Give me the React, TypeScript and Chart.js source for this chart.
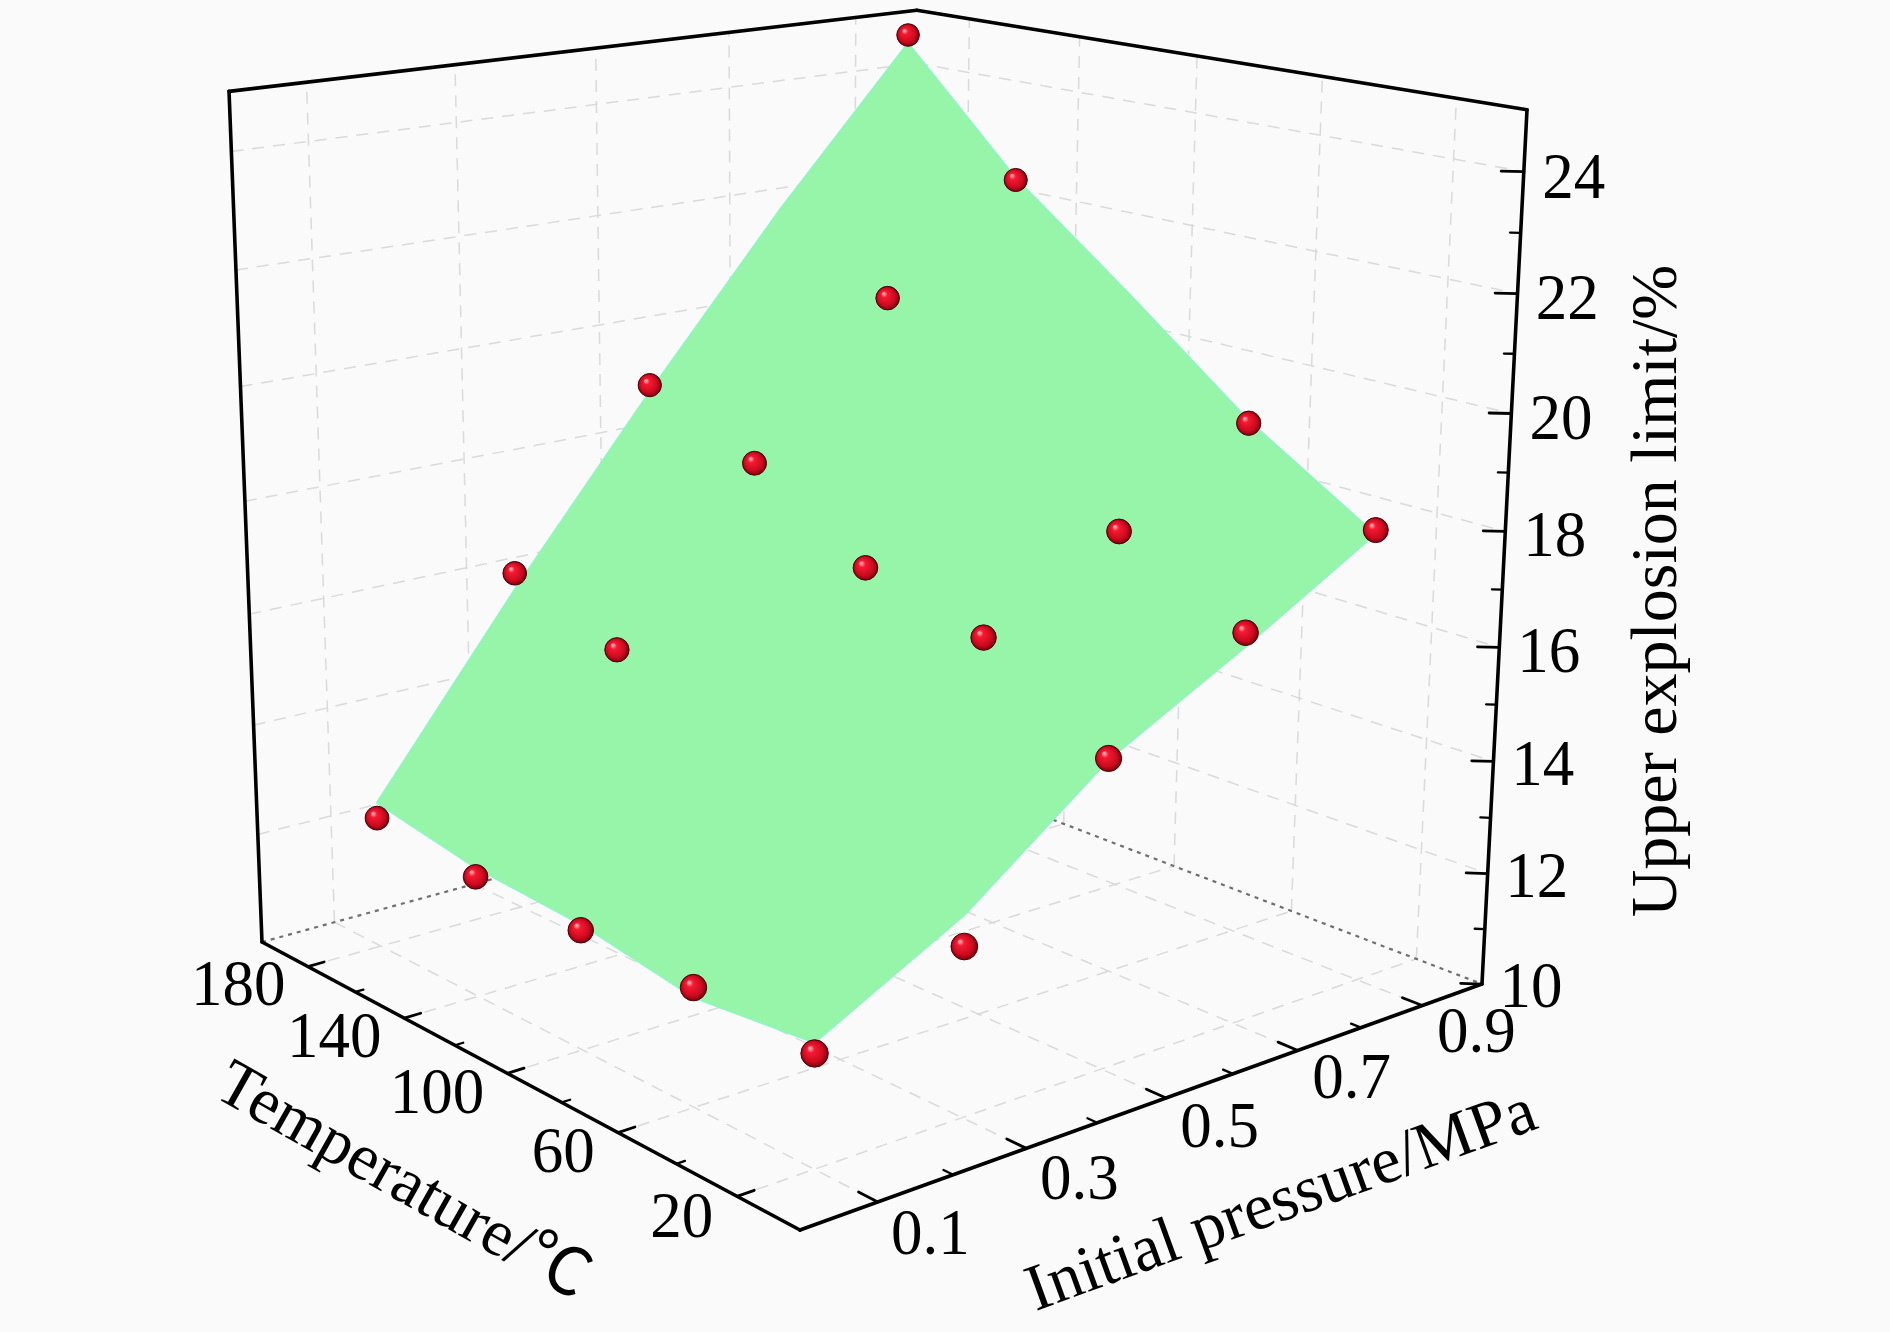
import React, { useEffect, useRef } from "react";
import { Chart, registerables } from "chart.js";

Chart.register(...registerables);

// ---------------- data ----------------
const temperatures = [180, 140, 100, 60, 20]; // °C (rows)
const pressures = [0.1, 0.3, 0.5, 0.7, 0.9]; // MPa (columns)

// measured upper explosion limit (%) for each temperature, by pressure
const uelT180 = [12.37, 16.23, 19.16, 21.6, 24.84];
const uelT140 = [12.15, 15.54, 18.32, 20.82, 22.57];
const uelT100 = [12.09, 14.2, 17.1, 18.5, 20.5];
const uelT60 = [12.03, 13.4, 16.58, 17.84, 19.22];
const uelT20 = [11.9, 12.87, 15.29, 16.78, 17.97];

// fitted surface (%) for each temperature, by pressure
const fitT180 = [12.65, 15.95, 19.05, 21.99, 24.7];
const fitT140 = [12.31, 15.0, 18.0, 20.5, 22.61];
const fitT100 = [12.19, 14.7, 16.9, 18.95, 20.98];
const fitT60 = [11.86, 13.9, 16.2, 17.6, 19.27];
const fitT20 = [12.07, 13.39, 15.26, 16.53, 17.9];

// axes
const tempRange = [0, 200];
const pressureRange = [0, 1];
const uelRange = [10, 25];
const tempTicks = [20, 60, 100, 140, 180];
const tempMinorTicks = [40, 80, 120, 160];
const pressureTicks = [0.1, 0.3, 0.5, 0.7, 0.9];
const pressureMinorTicks = [0.2, 0.4, 0.6, 0.8];
const uelTicks = [10, 12, 14, 16, 18, 20, 22, 24];
const uelMinorTicks = [11, 13, 15, 17, 19, 21, 23];

const titleTemperature = "Temperature/℃";
const titlePressure = "Initial pressure/MPa";
const titleUel = "Upper explosion limit/%";

// ---------------- layout / style ----------------
const W = 1890;
const H = 1332;
// perspective camera: (u, v, s, 1) -> units of the hidden x / y scales
const CAMERA = {
  xRow: [408.6, 769.4, -46.5, 262],
  yRow: [89.1, -74.95, -856, 942],
  wRow: [-0.16173, 0.1334, -0.0591, 1],
};
const FONT = "'Liberation Serif', 'Times New Roman', 'Noto Sans CJK SC', serif";
const TICK_FONT = 63;
const TITLE_FONT = 66;
const TEXT_STRETCH_Y = 1.04;
const TITLE_T = { x: 402, y: 1183, angle: 29.5 };
const TITLE_P = { x: 1282, y: 1203, angle: -20 };
const TITLE_Z = { x: 1659, y: 591, angle: -90 };
const SURFACE_COLOR = "rgb(150,245,168)";
const SURFACE_EDGE = "rgb(140,246,196)";
const GRID_COLOR = "rgba(214,214,214,0.9)";
const SPHERE_COLOR = "#e0102a";
const SPHERE_R = 11.8;
const SPHERE_Z_MARGIN = 0.3;

function project(T: number, P: number, Z: number) {
  const u = (tempRange[1] - T) / (tempRange[1] - tempRange[0]);
  const v = (P - pressureRange[0]) / (pressureRange[1] - pressureRange[0]);
  const s = (Z - uelRange[0]) / (uelRange[1] - uelRange[0]);
  const d = (r: number[]) => r[0] * u + r[1] * v + r[2] * s + r[3];
  const w = d(CAMERA.wRow);
  return { x: d(CAMERA.xRow) / w, y: d(CAMERA.yRow) / w, w };
}

type P3 = [number, number, number];

function segment(a: P3, b: P3, color: string, width: number, dash: number[], order: number) {
  const pa = project(a[0], a[1], a[2]);
  const pb = project(b[0], b[1], b[2]);
  return {
    type: "scatter" as const,
    data: [
      { x: pa.x, y: pa.y },
      { x: pb.x, y: pb.y },
    ],
    showLine: true,
    borderColor: color,
    borderWidth: width,
    borderDash: dash,
    borderCapStyle: dash.length ? "butt" : "round",
    pointRadius: 0,
    pointHoverRadius: 0,
    fill: false,
    clip: false,
    order,
  };
}

function sphereFill(ctx: any) {
  try {
    const raw = ctx && ctx.raw;
    const chart = ctx && ctx.chart;
    const xs = chart && chart.scales && chart.scales.x;
    const ys = chart && chart.scales && chart.scales.y;
    if (!raw || !xs || !ys) return SPHERE_COLOR;
    const cx = xs.getPixelForValue(raw.x);
    const cy = ys.getPixelForValue(raw.y);
    const r = raw.r;
    if (![cx, cy, r].every((q) => Number.isFinite(q)) || r <= 0) return SPHERE_COLOR;
    const g = chart.ctx.createRadialGradient(cx - r * 0.35, cy - r * 0.4, r * 0.05, cx, cy, r * 1.05);
    g.addColorStop(0, "#ffb0b0");
    g.addColorStop(0.22, "#f51a33");
    g.addColorStop(0.7, "#cc0a1e");
    g.addColorStop(1, "#70000e");
    return g;
  } catch (e) {
    return SPHERE_COLOR;
  }
}

function buildDatasets() {
  const measured = [uelT180, uelT140, uelT100, uelT60, uelT20];
  const surface = [fitT180, fitT140, fitT100, fitT60, fitT20];
  const ds: any[] = [];
  const [t0, t1] = tempRange;
  const [p0, p1] = pressureRange;
  const [z0, z1] = uelRange;

  // grid lines on the back walls and floor
  const grid = (a: P3, b: P3) => ds.push(segment(a, b, GRID_COLOR, 1.5, [12, 9], 9));
  pressureTicks.forEach((p) => grid([t1, p, z0], [t1, p, z1]));
  uelTicks.filter((z) => z > z0).forEach((z) => grid([t1, p0, z], [t1, p1, z]));
  tempTicks.forEach((t) => grid([t, p1, z0], [t, p1, z1]));
  uelTicks.filter((z) => z > z0).forEach((z) => grid([t1, p1, z], [t0, p1, z]));
  tempTicks.forEach((t) => grid([t, p0, z0], [t, p1, z0]));
  pressureTicks.forEach((p) => grid([t1, p, z0], [t0, p, z0]));

  // dotted hidden floor edges
  ds.push(segment([t1, p0, z0], [t1, p1, z0], "#707070", 2.2, [4, 5], 8));
  ds.push(segment([t1, p1, z0], [t0, p1, z0], "#707070", 2.2, [4, 5], 8));

  // scatter points, split by whether the surface hides them
  const behind: any[] = [];
  const front: any[] = [];
  temperatures.forEach((t, i) => {
    pressures.forEach((p, j) => {
      const z = measured[i][j];
      const pr = project(t, p, z);
      const pt = { x: pr.x, y: pr.y, r: SPHERE_R / pr.w, depth: pr.w };
      if (z >= surface[i][j] - SPHERE_Z_MARGIN) front.push(pt);
      else behind.push(pt);
    });
  });
  const byDepth = (a: any, b: any) => b.depth - a.depth;
  behind.sort(byDepth);
  front.sort(byDepth);
  const sphereSet = (data: any[], order: number) => ({
    type: "scatter" as const,
    data,
    pointRadius: data.map((q) => q.r),
    pointHoverRadius: data.map((q) => q.r),
    backgroundColor: sphereFill,
    borderColor: "#4d0008",
    borderWidth: 1,
    showLine: false,
    clip: false,
    order,
  });
  ds.push(sphereSet(behind, 7));

  // fitted surface outline (boundary of the grid)
  const n = temperatures.length;
  const m = pressures.length;
  const ring: { x: number; y: number }[] = [];
  for (let i = 0; i < n; i++) ring.push(project(temperatures[i], pressures[0], surface[i][0]));
  for (let j = 1; j < m; j++) ring.push(project(temperatures[n - 1], pressures[j], surface[n - 1][j]));
  for (let i = n - 2; i >= 0; i--) ring.push(project(temperatures[i], pressures[m - 1], surface[i][m - 1]));
  for (let j = m - 2; j >= 0; j--) ring.push(project(temperatures[0], pressures[j], surface[0][j]));
  ds.push({
    type: "scatter" as const,
    data: ring.map((q) => ({ x: q.x, y: q.y })),
    showLine: true,
    fill: "shape",
    backgroundColor: SURFACE_COLOR,
    borderColor: SURFACE_EDGE,
    borderWidth: 1.5,
    borderJoinStyle: "round",
    pointRadius: 0,
    pointHoverRadius: 0,
    clip: false,
    order: 6,
  });

  ds.push(sphereSet(front, 5));

  // solid box edges
  const edge = (a: P3, b: P3) => ds.push(segment(a, b, "#000", 3.6, [], 2));
  edge([t1, p0, z1], [t1, p1, z1]);
  edge([t1, p1, z1], [t0, p1, z1]);
  edge([t1, p0, z1], [t1, p0, z0]);
  edge([t0, p1, z1], [t0, p1, z0]);
  edge([t1, p0, z0], [t0, p0, z0]);
  edge([t0, p0, z0], [t0, p1, z0]);

  // ticks
  const tick = (a: P3, b: P3, w: number) => ds.push(segment(a, b, "#000", w, [], 1));
  tempTicks.forEach((t) => tick([t, p0, z0], [t, p0 + 0.022, z0], 2.8));
  tempMinorTicks.forEach((t) => tick([t, p0, z0], [t, p0 + 0.011, z0], 2.3));
  pressureTicks.forEach((p) => tick([t0, p, z0], [t0 + 6, p, z0], 2.8));
  pressureMinorTicks.forEach((p) => tick([t0, p, z0], [t0 + 3, p, z0], 2.3));
  uelTicks.forEach((z) => tick([t0, p1, z], [t0 + 3.4, p1 - 0.017, z], 2.8));
  uelMinorTicks.forEach((z) => tick([t0, p1, z], [t0 + 1.6, p1 - 0.008, z], 2.3));

  return ds;
}

const backgroundPlugin = {
  id: "paperBackground",
  beforeDraw(chart: any) {
    const { ctx } = chart;
    ctx.save();
    ctx.fillStyle = "#fafafa";
    ctx.fillRect(0, 0, chart.width, chart.height);
    ctx.restore();
  },
};

const axisTextPlugin = {
  id: "axisText",
  afterDatasetsDraw(chart: any) {
    const { ctx } = chart;
    const xs = chart.scales.x;
    const ys = chart.scales.y;
    const px = (q: { x: number; y: number }) => ({ x: xs.getPixelForValue(q.x), y: ys.getPixelForValue(q.y) });
    const [t0] = tempRange;
    const [p0, p1] = pressureRange;
    const [z0] = uelRange;
    const put = (text: string, x: number, y: number, angle = 0) => {
      ctx.save();
      ctx.translate(x, y);
      ctx.scale(1, TEXT_STRETCH_Y);
      ctx.rotate((angle * Math.PI) / 180);
      ctx.fillText(text, 0, 0);
      ctx.restore();
    };
    ctx.save();
    ctx.fillStyle = "#000";
    ctx.font = `${TICK_FONT}px ${FONT}`;

    // temperature tick labels
    ctx.textAlign = "right";
    ctx.textBaseline = "middle";
    tempTicks.forEach((t) => {
      const a = px(project(t, p0 - 0.03, z0));
      put(String(t), a.x, a.y + 15);
    });
    // pressure tick labels
    ctx.textAlign = "center";
    pressureTicks.forEach((p) => {
      const a = px(project(t0 - 16, p, z0));
      put(p.toFixed(1), a.x, a.y + 8);
    });
    // UEL tick labels
    ctx.textAlign = "left";
    uelTicks.forEach((z) => {
      const a = px(project(t0, p1 + 0.03, z));
      put(String(z), a.x, a.y + 12);
    });

    // axis titles
    ctx.font = `${TITLE_FONT}px ${FONT}`;
    ctx.textAlign = "center";
    ctx.textBaseline = "middle";
    const title = (text: string, pos: { x: number; y: number; angle: number }) => {
      const a = px(pos);
      ctx.save();
      ctx.translate(a.x, a.y);
      ctx.rotate((pos.angle * Math.PI) / 180);
      ctx.fillText(text, 0, 0);
      ctx.restore();
    };
    title(titleTemperature, TITLE_T);
    title(titlePressure, TITLE_P);
    title(titleUel, TITLE_Z);
    ctx.restore();
  },
};

export default function App() {
  const canvasRef = useRef<HTMLCanvasElement | null>(null);

  useEffect(() => {
    const canvas = canvasRef.current;
    if (!canvas) return;
    const chart = new Chart(canvas, {
      type: "scatter",
      data: { datasets: buildDatasets() as any },
      options: {
        animation: false,
        responsive: false,
        events: [],
        layout: { padding: 0, autoPadding: false },
        elements: { line: { tension: 0 } },
        plugins: {
          legend: { display: false },
          tooltip: { enabled: false },
          title: { display: false },
        },
        scales: {
          x: { type: "linear", min: 0, max: W, display: false },
          y: { type: "linear", min: 0, max: H, reverse: true, display: false },
        },
      },
      plugins: [backgroundPlugin, axisTextPlugin],
    });
    return () => chart.destroy();
  }, []);

  return (
    <div style={{ position: "fixed", left: 0, top: 0, width: W, height: H, background: "#fafafa" }}>
      <canvas ref={canvasRef} width={W} height={H} style={{ width: W, height: H, display: "block" }} />
    </div>
  );
}
